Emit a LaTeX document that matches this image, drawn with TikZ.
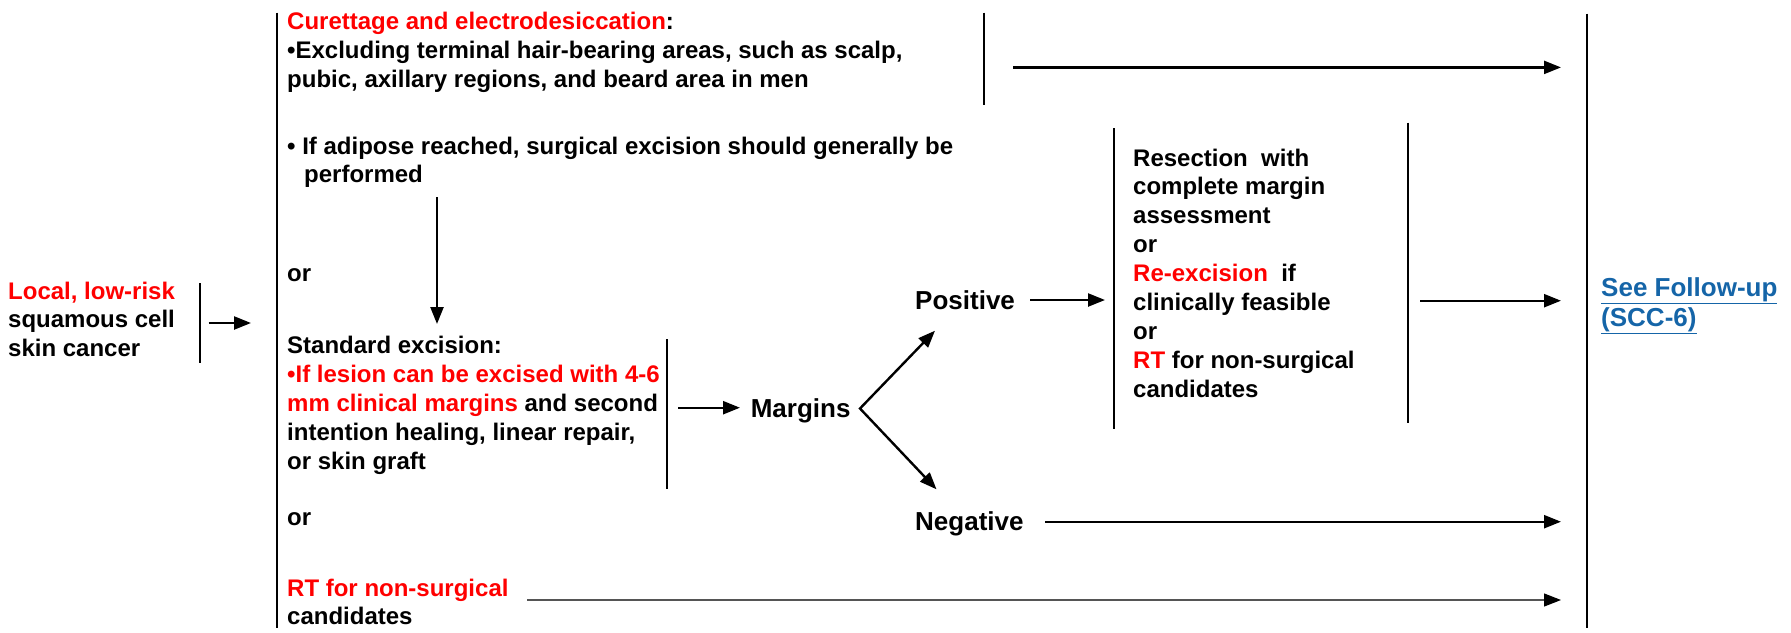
\documentclass[tikz,border=0pt]{standalone}
\usepackage{fontspec}
\setmainfont{Liberation Sans}
\usetikzlibrary{arrows.meta}
\definecolor{nred}{RGB}{255,0,0}
\definecolor{nblue}{RGB}{21,101,168}
\definecolor{ngray}{RGB}{85,85,85}
\begin{document}
\begin{tikzpicture}[x=1pt,y=-1pt,
  txt/.style={anchor=base west, inner sep=0pt, align=left, font=\fontsize{24}{28.9}\selectfont\bfseries},
  bigtxt/.style={txt, font=\fontsize{26}{30}\selectfont\bfseries},
  vline/.style={line width=2pt},
  arr/.style={line width=2.4pt, -{Triangle[length=17pt,width=13pt]}},
  thinarr/.style={line width=1.2pt, draw=ngray, -{Triangle[length=17pt,width=13pt,color=black]}},
]
\useasboundingbox (0,0) rectangle (1791,632);

% texts (base anchor = baseline of the last line)
\node[txt] (local) at (8,356.8) {\textcolor{nred}{Local, low-risk}\\squamous cell\\skin cancer};
\node[txt] (curet) at (287,87.3) {\textcolor{nred}{Curettage and electrodesiccation}:\\•Excluding terminal hair-bearing areas, such as scalp,\\pubic, axillary regions, and beard area in men};
\node[txt] (adipose) at (287,182.9) {• If adipose reached, surgical excision should generally be\\\hspace*{17pt}performed};
\node[txt] (or1) at (287,281.5) {or};
\node[txt] (std) at (287,469.1) {Standard excision:\\\textcolor{nred}{•If lesion can be excised with 4-6}\\\textcolor{nred}{mm clinical margins} and second\\intention healing, linear repair,\\or skin graft};
\node[txt] (or2) at (287,525.5) {or};
\node[txt] (rt) at (287,624.9) {\textcolor{nred}{RT for non-surgical}\\candidates};
\node[bigtxt] (margins) at (750.6,417) {Margins};
\node[bigtxt] (pos) at (915,309) {Positive};
\node[bigtxt] (neg) at (915,530) {Negative};
\node[txt] (res) at (1133,397.2) {Resection\ \ with\\complete margin\\assessment\\or\\\textcolor{nred}{Re-excision}\ \ if\\clinically feasible\\or\\\textcolor{nred}{RT} for non-surgical\\candidates};
\node[bigtxt, text=nblue] (follow) at (1601,326) {\underline{See Follow-up}\\\underline{(SCC-6)}};

% vertical bracket lines
\coordinate (mainT) at (276.8,12.7); \coordinate (mainB) at (276.8,628);
\coordinate (locT) at (200,283); \coordinate (locB) at (200,363);
\coordinate (curT) at (984,12.7); \coordinate (curB) at (984,105);
\coordinate (stdT) at (666.5,339); \coordinate (stdB) at (666.5,489);
\coordinate (resLT) at (1114,128); \coordinate (resLB) at (1114,429);
\coordinate (resRT) at (1408,122.7); \coordinate (resRB) at (1408,423.3);
\coordinate (rightT) at (1586.7,13.7); \coordinate (rightB) at (1586.7,628);
\draw[vline] (mainT) -- (mainB);
\draw[vline] (locT) -- (locB);
\draw[vline] (curT) -- (curB);
\draw[vline] (stdT) -- (stdB);
\draw[vline] (resLT) -- (resLB);
\draw[vline] (resRT) -- (resRB);
\draw[vline] (rightT) -- (rightB);

% arrow end points
\coordinate (a1s) at (208.5,323); \coordinate (a1e) at (251,323);
\coordinate (a2s) at (1013,67.4); \coordinate (a2e) at (1561,67.4);
\coordinate (a3s) at (437,197); \coordinate (a3e) at (437,324);
\coordinate (a4s) at (678,407.7); \coordinate (a4e) at (740,407.7);
\coordinate (apex) at (860,408.5); \coordinate (ptop) at (935,330.7); \coordinate (pbot) at (936.5,489.3);
\coordinate (a6s) at (1030,300); \coordinate (a6e) at (1105,300);
\coordinate (a7s) at (1420,300.7); \coordinate (a7e) at (1561,300.7);
\coordinate (a8s) at (1045,521.7); \coordinate (a8e) at (1561,521.7);
\coordinate (a9s) at (527,600); \coordinate (a9e) at (1561,600);

\draw[arr] (a1s) -- (a1e);
\draw[arr] (a2s) -- (a2e);
\draw[arr] (a3s) -- (a3e);
\draw[arr] (a4s) -- (a4e);
\draw[line width=2.4pt, {Triangle[length=17pt,width=13pt]}-{Triangle[length=17pt,width=13pt]}] (ptop) -- (apex) -- (pbot);
\draw[arr] (a6s) -- (a6e);
\draw[arr] (a7s) -- (a7e);
\draw[arr] (a8s) -- (a8e);
\draw[thinarr] (a9s) -- (a9e);
\end{tikzpicture}
\end{document}
